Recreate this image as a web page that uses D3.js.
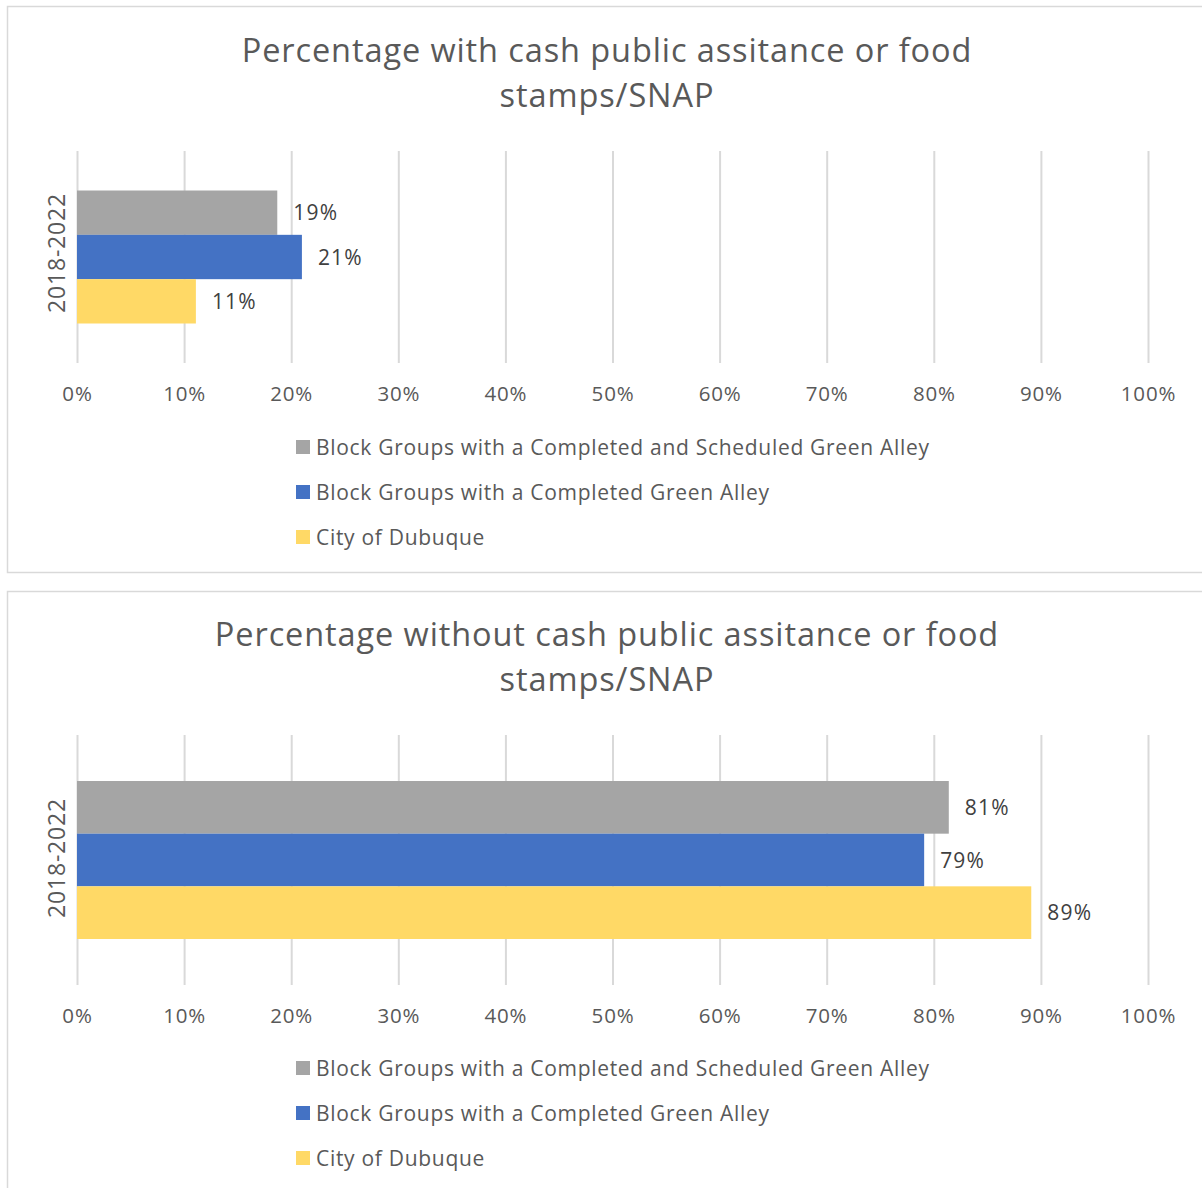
<!DOCTYPE html>
<html><head><meta charset="utf-8">
<script src="https://cdn.jsdelivr.net/npm/d3@7"></script>
<style>body{margin:0;background:#fff}svg{display:block}text{font-family:"Open Sans","Noto Sans",sans-serif}</style>
</head><body>
<svg id="c" width="1202" height="1188"></svg>
<script>
const categories = ["2018-2022"];
const seriesNames = ["Block Groups with a Completed and Scheduled Green Alley","Block Groups with a Completed Green Alley","City of Dubuque"];
const seriesColors = ["#A5A5A5","#4472C4","#FFD966"];
const withAssistance = [18.7, 21.0, 11.1];
const withoutAssistance = [81.4, 79.1, 89.1];
const tickValues = [0,10,20,30,40,50,60,70,80,90,100];
const titles = [["Percentage with cash public assitance or food","stamps/SNAP"],["Percentage without cash public assitance or food","stamps/SNAP"]];

const svg = d3.select("#c");
const panels = [
  {values: withAssistance, title: titles[0], top: 6, bottom: 572, titleY: 62, gridTop: 151, gridBottom: 363, tickY: 401, legendY: 447, catY: 253, gap: 39.5},
  {values: withoutAssistance, title: titles[1], top: 591, bottom: 1200, titleY: 646, gridTop: 735, gridBottom: 985, tickY: 1023, legendY: 1068, catY: 858, gap: 46}
];
const x = d3.scaleLinear().domain([0,100]).range([77,1148]);

panels.forEach(p => {
  const g = svg.append("g");
  g.append("rect").attr("x",7.5).attr("y",p.top+0.5).attr("width",1220).attr("height",p.bottom-p.top)
    .attr("fill","#fff").attr("stroke","#D9D9D9").attr("stroke-width",1.5);
  g.append("text").attr("x",607).attr("y",p.titleY).attr("text-anchor","middle").attr("fill","#595959")
    .attr("font-size",32.5).attr("letter-spacing",0.9).selectAll("tspan").data(p.title).join("tspan")
    .attr("x",607).attr("dy",(d,i)=>i?45:0).text(d=>d);
  const ax = d3.axisBottom(x).tickValues(tickValues).tickFormat(d=>d+"%").tickSize(p.gridBottom-p.gridTop).tickPadding(0);
  const axg = g.append("g").attr("transform",`translate(0,${p.gridTop})`).call(ax);
  axg.select(".domain").remove();
  axg.selectAll(".tick line").attr("stroke","#D9D9D9").attr("stroke-width",2);
  axg.selectAll(".tick text").attr("fill","#595959").attr("font-size",20.5).attr("letter-spacing",0.8).attr("dy",0)
    .attr("y",p.tickY-p.gridTop);
  const yBand = d3.scaleBand().domain(categories).range([p.gridTop,p.gridBottom]);
  const bw = yBand.bandwidth();
  const sub = d3.scaleBand().domain(d3.range(3)).range([yBand(categories[0])+p.gap, yBand(categories[0])+bw-p.gap]);
  g.selectAll(".bar").data(p.values).join("rect")
    .attr("x",x(0)).attr("y",(d,i)=>sub(i)).attr("width",d=>x(d)-x(0)).attr("height",sub.bandwidth())
    .attr("fill",(d,i)=>seriesColors[i]);
  g.selectAll(".lbl").data(p.values).join("text")
    .attr("x",d=>x(d)+16).attr("y",(d,i)=>sub(i)+sub.bandwidth()/2).attr("dy","0.36em")
    .attr("fill","#404040").attr("font-size",21).attr("letter-spacing",1.2).text(d=>Math.round(d)+"%");
  g.append("text").attr("transform",`translate(65,${p.catY}) rotate(-90)`).attr("text-anchor","middle")
    .attr("fill","#595959").attr("font-size",23).attr("letter-spacing",0.8).text(categories[0]);
  const lg = g.selectAll(".leg").data(seriesNames).join("g").attr("transform",(d,i)=>`translate(296,${p.legendY+i*45})`);
  lg.append("rect").attr("x",0).attr("y",-7).attr("width",14).attr("height",14).attr("fill",(d,i)=>seriesColors[i]);
  lg.append("text").attr("x",20).attr("y",0).attr("dy","0.36em").attr("fill","#595959").attr("font-size",21)
    .attr("letter-spacing",0.7).text(d=>d);
});
</script>
</body></html>
